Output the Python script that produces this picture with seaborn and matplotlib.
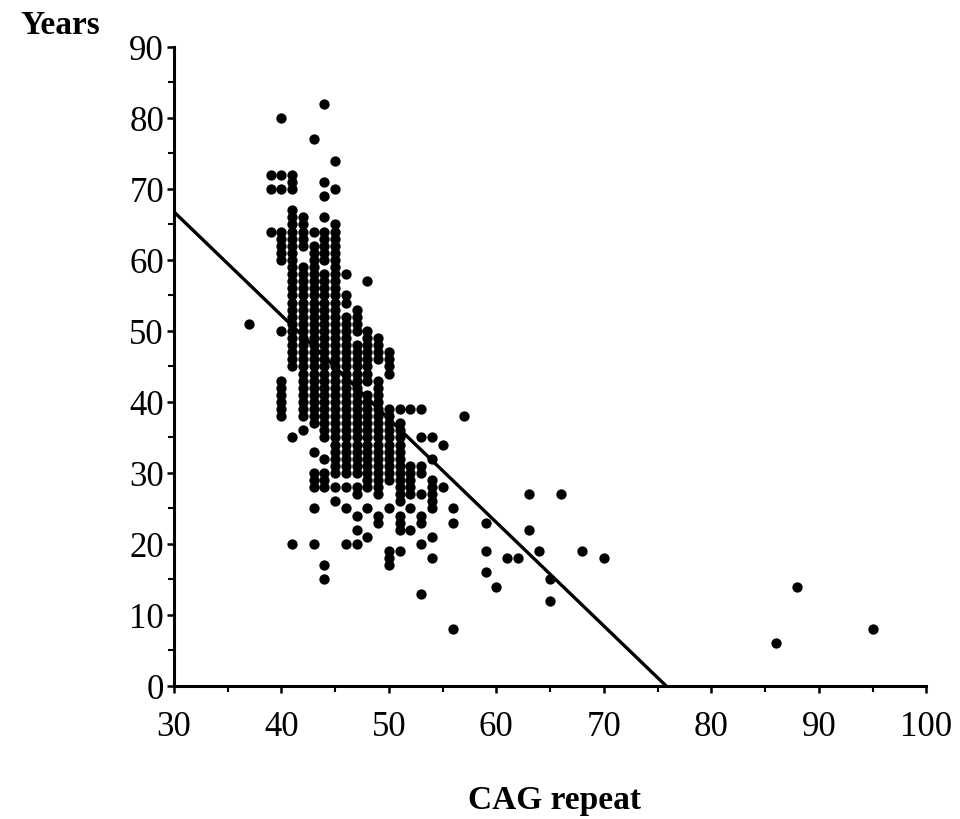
import matplotlib
matplotlib.use("Agg")
import matplotlib.pyplot as plt
import seaborn as sns
import pandas as pd
from matplotlib.ticker import MultipleLocator

# ---- data ----
cag_repeat = [37, 39, 40, 41, 42, 43, 44, 45, 46, 47, 48, 49, 50, 51, 52, 53, 54,
              55, 56, 57, 59, 60, 61, 62, 63, 64, 65, 66, 68, 70, 86, 88, 95]

years_c37 = [51]
years_c39 = [72, 70, 64]
years_c40 = [80, 72, 70, 64, 63, 62, 61, 60, 50, 43, 42, 41, 40, 39, 38]
years_c41 = [72, 71, 70, 67, 66, 65, 64, 63, 62, 61, 60, 59, 58, 57, 56, 55, 54, 53,
             52, 51, 50, 49, 48, 47, 46, 45, 35, 20]
years_c42 = [66, 65, 64, 63, 62, 59, 58, 57, 56, 55, 54, 53, 52, 51, 50, 49, 48, 47,
             46, 45, 44, 43, 42, 41, 40, 39, 38, 36]
years_c43 = [77, 64, 62, 61, 60, 59, 58, 57, 56, 55, 54, 53, 52, 51, 50, 49, 48, 47,
             46, 45, 44, 43, 42, 41, 40, 39, 38, 37, 33, 30, 29, 28, 25, 20]
years_c44 = [82, 71, 69, 66, 64, 63, 62, 61, 60, 58, 57, 56, 55, 54, 53, 52, 51, 50,
             49, 48, 47, 46, 45, 44, 43, 42, 41, 40, 39, 38, 37, 36, 35, 32, 30, 29,
             28, 17, 15]
years_c45 = [74, 70, 65, 64, 63, 62, 61, 60, 59, 58, 57, 56, 55, 54, 53, 52, 51, 50,
             49, 48, 47, 46, 45, 44, 43, 42, 41, 40, 39, 38, 37, 36, 35, 34, 33, 32,
             31, 30, 28, 26]
years_c46 = [58, 55, 54, 52, 51, 50, 49, 48, 47, 46, 45, 44, 43, 42, 41, 40, 39, 38,
             37, 36, 35, 34, 33, 32, 31, 30, 28, 25, 20]
years_c47 = [53, 52, 51, 50, 48, 47, 46, 45, 44, 43, 42, 41, 40, 39, 38, 37, 36, 35,
             34, 33, 32, 31, 30, 28, 27, 24, 22, 20]
years_c48 = [57, 50, 49, 48, 47, 46, 45, 44, 43, 41, 40, 39, 38, 37, 36, 35, 34, 33,
             32, 31, 30, 29, 28, 25, 21]
years_c49 = [49, 48, 47, 46, 43, 42, 41, 40, 39, 38, 37, 36, 35, 34, 33, 32, 31, 30,
             29, 28, 27, 24, 23]
years_c50 = [47, 46, 45, 44, 39, 38, 37, 36, 35, 34, 33, 32, 31, 30, 29, 25, 19, 18, 17]
years_c51 = [39, 37, 36, 35, 34, 33, 32, 31, 30, 29, 28, 27, 26, 24, 23, 22, 19]
years_c52 = [39, 31, 30, 29, 28, 27, 25, 22]
years_c53 = [39, 35, 31, 30, 27, 24, 23, 20, 13]
years_c54 = [35, 32, 29, 28, 27, 26, 25, 21, 18]
years_c55 = [34, 28]
years_c56 = [25, 23, 8]
years_c57 = [38]
years_c59 = [23, 19, 16]
years_c60 = [14]
years_c61 = [18]
years_c62 = [18]
years_c63 = [27, 22]
years_c64 = [19]
years_c65 = [15, 12]
years_c66 = [27]
years_c68 = [19]
years_c70 = [18]
years_c86 = [6]
years_c88 = [14]
years_c95 = [8]

years_by_cag = [years_c37, years_c39, years_c40, years_c41, years_c42, years_c43,
                years_c44, years_c45, years_c46, years_c47, years_c48, years_c49,
                years_c50, years_c51, years_c52, years_c53, years_c54, years_c55,
                years_c56, years_c57, years_c59, years_c60, years_c61, years_c62,
                years_c63, years_c64, years_c65, years_c66, years_c68, years_c70,
                years_c86, years_c88, years_c95]

# regression line (end points)
fit_cag = [30, 75.8]
fit_years = [66.8, 0]

x_ticks = [30, 40, 50, 60, 70, 80, 90, 100]
y_ticks = [0, 10, 20, 30, 40, 50, 60, 70, 80, 90]

# ---- build table ----
rows = []
for c, ys in zip(cag_repeat, years_by_cag):
    for y in ys:
        rows.append({"cag": c, "years": y})
df = pd.DataFrame(rows)

sns.set_style("ticks")
plt.rcParams['font.family'] = ['Liberation Serif', 'DejaVu Serif']
plt.rcParams['text.color'] = 'black'
plt.rcParams['axes.labelcolor'] = 'black'
plt.rcParams['xtick.color'] = 'black'
plt.rcParams['ytick.color'] = 'black'

fig = plt.figure(figsize=(9.6, 8.2), dpi=100)
ax = fig.add_axes([0.181, 0.1622, 0.784, 0.7793])

sns.scatterplot(data=df, x="cag", y="years", color="black", s=55, marker="o",
                linewidth=0, ax=ax, clip_on=False)
sns.lineplot(x=fit_cag, y=fit_years, color="black", linewidth=2.4, ax=ax)

ax.set_xlim(30, 100)
ax.set_ylim(0, 90)
ax.set_xticks(x_ticks)
ax.set_yticks(y_ticks)
ax.set_xticklabels([str(t) for t in x_ticks])
ax.set_yticklabels([str(t) for t in y_ticks])
ax.xaxis.set_minor_locator(MultipleLocator(5))
ax.yaxis.set_minor_locator(MultipleLocator(5))
sns.despine(ax=ax)
for sp in ["left", "bottom"]:
    ax.spines[sp].set_linewidth(2.2)
    ax.spines[sp].set_color("black")
ax.tick_params(which="major", length=5, width=1.8, direction="out",
               labelsize=25, colors="black")
ax.tick_params(axis="y", which="major", pad=2)
ax.tick_params(axis="x", which="major", pad=12)
ax.tick_params(which="minor", length=4, width=1.5, direction="out", colors="black")
ax.set_xlabel("")
ax.set_ylabel("")

fig.text(0.0625, 0.969, "Years", ha="center", va="center", fontsize=24,
         fontweight="bold", color="black")
fig.text(0.578, 0.024, "CAG repeat", ha="center", va="center", fontsize=24,
         fontweight="bold", color="black")

fig.savefig("out.png", dpi=100)
